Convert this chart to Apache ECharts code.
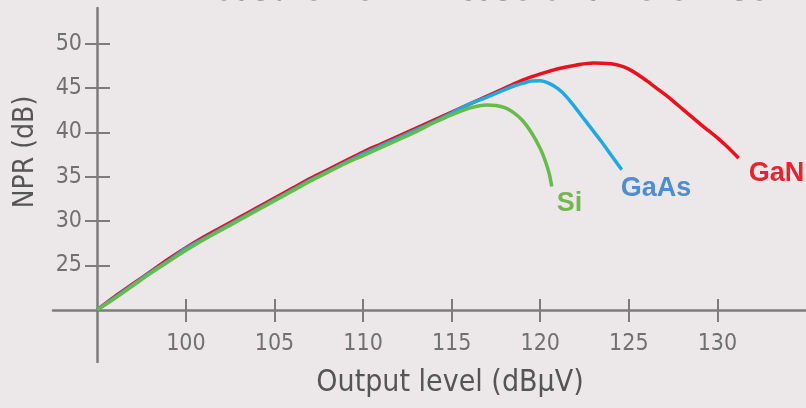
<!DOCTYPE html>
<html><head><meta charset="utf-8">
<script src="https://cdn.jsdelivr.net/npm/echarts@6/dist/echarts.min.js"></script>
<style>html,body{margin:0;padding:0;background:#ece8ea}#c{width:806px;height:408px}</style>
</head><body><div id="c"></div>
<script>
const titleText = 'NPR measurement in case of different semiconductors';
const xName = 'Output level (dBµV)';
const yName = 'NPR (dB)';
const xTicks = [100, 105, 110, 115, 120, 125, 130];
const yTicks = [25, 30, 35, 40, 45, 50];

const ganX = [95,96,97,98,99,100,101,102,103,104,105,106,107,108,109,110,111,112,113,114,115,116,117,118,119,120,121,122,123,124,124.5,125,125.5,126,126.5,127,127.5,128,128.5,129,129.5,130,130.5,131.2];
const ganY = [20.0,21.5,22.9,24.3,25.7,27.0,28.2,29.3,30.4,31.5,32.6,33.7,34.8,35.8,36.8,37.8,38.7,39.6,40.5,41.4,42.3,43.2,44.1,45.0,45.9,46.6,47.2,47.6,47.85,47.75,47.55,47.15,46.55,45.85,45.1,44.35,43.55,42.7,41.85,41.0,40.2,39.4,38.5,37.1];

const gaasX = [95,96,97,98,99,100,101,102,103,104,105,106,107,108,109,110,111,112,113,114,115,116,117,118,118.5,119,119.5,120,120.5,121,121.5,122,122.5,123,123.5,124,124.6];
const gaasY = [20.0,21.4,22.8,24.2,25.5,26.9,28.0,29.1,30.2,31.3,32.4,33.5,34.6,35.6,36.6,37.6,38.5,39.4,40.3,41.2,42.2,43.2,44.0,44.85,45.25,45.55,45.8,45.85,45.55,44.95,44.0,42.75,41.45,40.15,38.85,37.45,35.8];

const siX = [95,96,97,98,99,100,101,102,103,104,105,106,107,108,109,110,111,112,113,114,115,116,116.5,117,117.5,118,118.5,119,119.5,120,120.3,120.5,120.65];
const siY = [20.0,21.3,22.7,24.1,25.4,26.7,27.9,29.0,30.1,31.2,32.3,33.4,34.5,35.5,36.5,37.4,38.3,39.2,40.1,41.1,42.0,42.75,43.0,43.1,43.05,42.8,42.25,41.35,40.0,38.2,36.7,35.4,33.9];

const NARROW = '"Liberation Sans Narrow", "DejaVu Sans Condensed", "Liberation Sans", Arial, sans-serif';
const BOLD = '"Liberation Sans", Arial, sans-serif';
const axisGray = '#7d7b7c';
const zip = (xs, ys) => xs.map((x, i) => [x, ys[i]]);

const chart = echarts.init(document.getElementById('c'), null, {renderer: 'canvas'});

function lineSeries(name, xs, ys, color, labelColor, offset, z) {
  return {
    type: 'line', name: name, data: zip(xs, ys),
    showSymbol: false, symbol: 'none', smooth: 0.35, z: z,
    lineStyle: {color: color, width: 3.5},
    itemStyle: {color: color},
    endLabel: {show: true, formatter: '{a}', distance: 0, offset: offset,
      fontFamily: BOLD, fontWeight: 'bold', fontSize: 27, color: labelColor}
  };
}

const option = {
  backgroundColor: '#ece8ea',
  animation: false,
  title: {text: titleText, left: 100, top: -32,
    textStyle: {fontFamily: NARROW, fontSize: 36, fontWeight: 'normal', color: '#5a5a5a'}},
  grid: {left: 53, right: 0, top: 8, bottom: 46},
  xAxis: [
    {type: 'value', position: 'bottom', offset: -52, min: 92.5, max: 135,
      splitLine: {show: false},
      axisLine: {onZero: false, lineStyle: {color: axisGray, width: 2.5}},
      axisTick: {customValues: xTicks, length: 12, lineStyle: {color: axisGray, width: 2}},
      axisLabel: {customValues: xTicks, margin: 23, color: '#707070', fontFamily: NARROW, fontSize: 23},
      name: xName, nameLocation: 'middle', nameGap: 58,
      nameTextStyle: {fontFamily: NARROW, fontSize: 30, color: '#555555', padding: [0, 0, 0, 41]}},
    {type: 'value', position: 'bottom', offset: -52, min: 92.5, max: 135,
      splitLine: {show: false}, axisLine: {show: false},
      axisTick: {customValues: xTicks, inside: true, length: 11, lineStyle: {color: axisGray, width: 2}},
      axisLabel: {show: false}}
  ],
  yAxis: [
    {type: 'value', position: 'left', offset: -44, min: 14.1, max: 54.05,
      splitLine: {show: false},
      axisLine: {onZero: false, lineStyle: {color: axisGray, width: 2.5}},
      axisTick: {customValues: yTicks, length: 12, lineStyle: {color: axisGray, width: 2}},
      axisLabel: {customValues: yTicks, margin: 15, color: '#707070', fontFamily: NARROW, fontSize: 23},
      name: yName, nameLocation: 'middle', nameGap: 57,
      nameTextStyle: {fontFamily: NARROW, fontSize: 28, color: '#555555', padding: [0, 0, 0, 66]}},
    {type: 'value', position: 'left', offset: -44, min: 14.1, max: 54.05,
      splitLine: {show: false}, axisLine: {show: false},
      axisTick: {customValues: yTicks, inside: true, length: 13, lineStyle: {color: axisGray, width: 2}},
      axisLabel: {show: false}}
  ],
  series: [
    lineSeries('GaN', ganX, ganY, '#e8121c', '#e32530', [10, 15], 2),
    lineSeries('GaAs', gaasX, gaasY, '#22a8e0', '#4f8dcc', [-1, 19], 3),
    lineSeries('Si', siX, siY, '#66bb4a', '#74b650', [5, 17], 4)
  ]
};
chart.setOption(option);
</script>
</body></html>
